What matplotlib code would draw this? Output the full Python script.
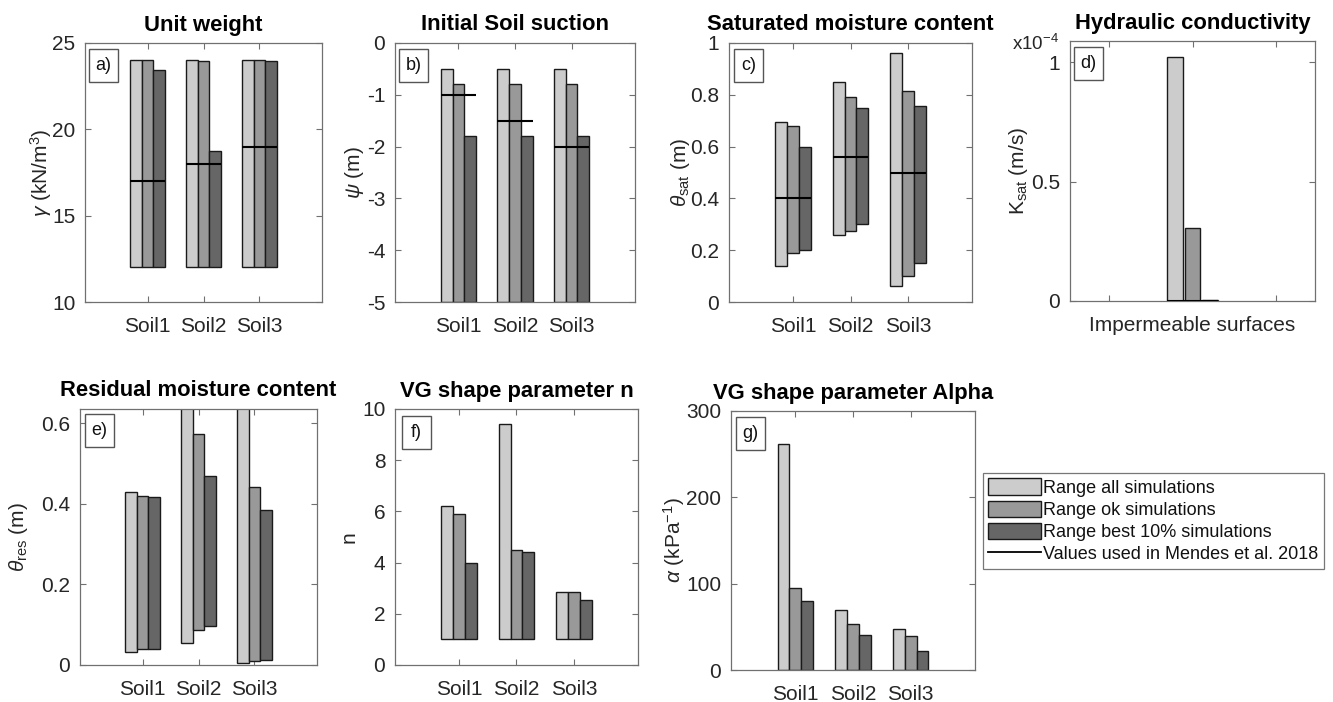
import matplotlib
matplotlib.use("Agg")
import numpy as np
import matplotlib.pyplot as plt
from matplotlib.patches import Patch, Rectangle
from matplotlib.lines import Line2D
from matplotlib.ticker import FuncFormatter

# ---------------- data ----------------
soils = ["Soil1", "Soil2", "Soil3"]
series_labels = ["Range all simulations", "Range ok simulations",
                 "Range best 10% simulations"]
mendes_label = "Values used in Mendes et al. 2018"

# rows: all / ok / best 10 %, columns: Soil1, Soil2, Soil3
unit_weight_low = [[12, 12, 12], [12, 12, 12], [12, 12, 12]]
unit_weight_high = [[24, 24, 24], [24, 23.95, 24], [23.45, 18.75, 23.95]]
unit_weight_mendes = [17, 18, 19]

suction_low = [[-5, -5, -5], [-5, -5, -5], [-5, -5, -5]]
suction_high = [[-0.5, -0.5, -0.5], [-0.8, -0.8, -0.8], [-1.8, -1.8, -1.8]]
suction_mendes = [-1.0, -1.5, -2.0]

theta_sat_low = [[0.14, 0.26, 0.06], [0.19, 0.275, 0.10], [0.20, 0.30, 0.15]]
theta_sat_high = [[0.695, 0.85, 0.96], [0.68, 0.79, 0.815], [0.60, 0.75, 0.755]]
theta_sat_mendes = [0.40, 0.56, 0.50]

ksat_category = ["Impermeable surfaces"]
ksat_low = [0.0, 0.0, 0.0]
ksat_high = [1.022e-4, 0.308e-4, 0.003e-4]
ksat_mendes = [0.0]

theta_res_low = [[0.033, 0.055, 0.005], [0.040, 0.088, 0.010], [0.040, 0.096, 0.013]]
theta_res_high = [[0.430, 0.70, 0.70], [0.420, 0.573, 0.442], [0.416, 0.469, 0.384]]

n_low = [[1, 1, 1], [1, 1, 1], [1, 1, 1]]
n_high = [[6.2, 9.4, 2.85], [5.9, 4.5, 2.85], [4.0, 4.4, 2.55]]

alpha_low = [[0, 0, 0], [0, 0, 0], [0, 0, 0]]
alpha_high = [[262, 69, 47.5], [95, 53, 39], [80, 41, 22.5]]

# ---------------- style ----------------
W, H = 1333, 702
plt.rcParams["font.family"] = ["Liberation Sans", "DejaVu Sans"]
plt.rcParams["axes.unicode_minus"] = False
plt.rcParams["mathtext.fontset"] = "custom"
plt.rcParams["mathtext.rm"] = "Liberation Sans"
plt.rcParams["mathtext.it"] = "Liberation Sans:italic"

colors = ["#cccccc", "#999999", "#666666"]
edge = "#1a1a1a"
txt_col = "#262626"
spine_col = "#707070"
bw = 0.207
offsets = [-bw, 0.0, bw]

fig = plt.figure(figsize=(W / 100, H / 100), dpi=100)


def px_axes(l, t, r, b):
    return fig.add_axes([l / W, 1 - b / H, (r - l) / W, (b - t) / H])


def style(ax, title, ylabel, label_x_px, letter, box_off=(5, 6)):
    for s in ax.spines.values():
        s.set_color(spine_col)
        s.set_linewidth(0.9)
    ax.tick_params(direction="in", top=True, right=True, length=4,
                   width=0.8, color=spine_col, labelsize=15,
                   labelcolor=txt_col)
    ax.tick_params(axis="x", pad=11)
    ax.tick_params(axis="y", pad=7)
    ax.set_title(title, fontsize=15.8, fontweight="bold", pad=9)
    ax.set_ylabel(ylabel, fontsize=15, color=txt_col)
    bb = ax.get_position()
    axw = bb.width * W
    ax.yaxis.set_label_coords(label_x_px / axw, 0.5)
    ax.yaxis.label.set_va("center")
    # panel letter box
    l = bb.x0 * W + box_off[0]
    t = (1 - bb.y1) * H + box_off[1]
    bwpx, bhpx = 29, 33
    rect = Rectangle((l / W, 1 - (t + bhpx) / H), bwpx / W, bhpx / H,
                     transform=fig.transFigure, facecolor="white",
                     edgecolor="#555555", lw=1.0, zorder=10)
    fig.patches.append(rect)
    fig.text((l + bwpx / 2) / W, 1 - (t + bhpx / 2) / H, letter,
             ha="center", va="center", fontsize=13, color="#111111",
             zorder=11)


def draw_ranges(ax, x, lows, highs):
    for i in range(3):
        lo = np.asarray(lows[i], dtype=float)
        hi = np.asarray(highs[i], dtype=float)
        ax.bar(x + offsets[i], hi - lo, bottom=lo, width=bw,
               color=colors[i], edgecolor=edge, linewidth=1.0, zorder=2)


def draw_mendes(ax, x, vals):
    for xi, v in zip(x, vals):
        ax.plot([xi - 1.5 * bw, xi + 1.5 * bw], [v, v], color="black",
                lw=1.5, zorder=3, solid_capstyle="butt")


def g_fmt(v, pos):
    return "%g" % v


x3 = np.arange(1, 4)
xl = (1 - 1.12, 3 + 1.12)

# a) Unit weight
ax = px_axes(85, 43, 322, 302)
draw_ranges(ax, x3, unit_weight_low, unit_weight_high)
draw_mendes(ax, x3, unit_weight_mendes)
ax.set_xlim(*xl); ax.set_ylim(10, 25)
ax.set_yticks([10, 15, 20, 25])
ax.set_xticks(x3); ax.set_xticklabels(soils)
style(ax, "Unit weight", r"$\gamma$ (kN/m$^3$)", -44, "a)", (4, 6))

# b) Initial soil suction
ax = px_axes(395, 43, 635, 302)
draw_ranges(ax, x3, suction_low, suction_high)
draw_mendes(ax, x3, suction_mendes)
ax.set_xlim(*xl); ax.set_ylim(-5, 0)
ax.set_yticks([-5, -4, -3, -2, -1, 0])
ax.set_xticks(x3); ax.set_xticklabels(soils)
style(ax, "Initial Soil suction", r"$\psi$ (m)", -40, "b)", (4, 6))

# c) Saturated moisture content
ax = px_axes(729, 43, 972, 302)
draw_ranges(ax, x3, theta_sat_low, theta_sat_high)
draw_mendes(ax, x3, theta_sat_mendes)
ax.set_xlim(*xl); ax.set_ylim(0, 1)
ax.set_yticks([0, 0.2, 0.4, 0.6, 0.8, 1])
ax.yaxis.set_major_formatter(FuncFormatter(g_fmt))
ax.set_xticks(x3); ax.set_xticklabels(soils)
style(ax, "Saturated moisture content", r"$\theta_{\rm sat}$ (m)", -48, "c)", (5, 6))

# d) Hydraulic conductivity (plotted in units of 1e-4 m/s)
scale = 1e-4
ax = px_axes(1070, 41, 1315, 301)
for i in range(3):
    ax.bar(1 + offsets[i], (ksat_high[i] - ksat_low[i]) / scale,
           bottom=ksat_low[i] / scale, width=bw * 0.92, color=colors[i],
           edgecolor=edge, linewidth=1.0, zorder=2)
draw_mendes(ax, [1], np.asarray(ksat_mendes) / scale)
ax.set_xlim(1 - 1.47, 1 + 1.47); ax.set_ylim(0, 1.09)
ax.set_yticks([0, 0.5, 1])
ax.yaxis.set_major_formatter(FuncFormatter(g_fmt))
ax.set_xticks([0, 1, 2]); ax.set_xticklabels(["", ksat_category[0], ""])
style(ax, "Hydraulic conductivity", r"K$_{\rm sat}$ (m/s)", -52, "d)", (4, 6))
fig.text(1012 / W, 1 - 50 / H, r"x10$^{-4}$", fontsize=13.5, color=txt_col,
         ha="left", va="baseline")

# e) Residual moisture content
ax = px_axes(80, 409, 317, 665)
draw_ranges(ax, x3, theta_res_low, theta_res_high)
ax.set_xlim(*xl); ax.set_ylim(0, 0.635)
ax.set_yticks([0, 0.2, 0.4, 0.6])
ax.yaxis.set_major_formatter(FuncFormatter(g_fmt))
ax.set_xticks(x3); ax.set_xticklabels(soils)
style(ax, "Residual moisture content", r"$\theta_{\rm res}$ (m)", -61, "e)", (5, 5))

# f) VG shape parameter n
ax = px_axes(395, 409, 638, 665)
draw_ranges(ax, x3, n_low, n_high)
ax.set_xlim(*xl); ax.set_ylim(0, 10)
ax.set_yticks([0, 2, 4, 6, 8, 10])
ax.set_xticks(x3); ax.set_xticklabels(soils)
style(ax, "VG shape parameter n", "n", -46, "f)", (7, 7))

# g) VG shape parameter alpha
ax = px_axes(731, 411, 975, 670)
draw_ranges(ax, x3, alpha_low, alpha_high)
ax.set_xlim(*xl); ax.set_ylim(0, 300)
ax.set_yticks([0, 100, 200, 300])
ax.set_xticks(x3); ax.set_xticklabels(soils)
style(ax, "VG shape parameter Alpha", r"$\alpha$ (kPa$^{-1}$)", -57, "g)", (5, 6))

# legend
handles = [Patch(facecolor=c, edgecolor=edge, lw=1.0) for c in colors]
handles.append(Line2D([0], [0], color="black", lw=1.3))
leg = fig.legend(handles, series_labels + [mendes_label], loc="upper left",
                 bbox_to_anchor=(983 / W, 1 - 473 / H), fontsize=13,
                 frameon=True, fancybox=False, handlelength=2.9,
                 handleheight=1.0, handletextpad=0.15, labelspacing=0.22,
                 borderpad=0.3, borderaxespad=0.0)
leg.get_frame().set_edgecolor("#555555")
leg.get_frame().set_linewidth(0.9)
for t in leg.get_texts():
    t.set_color("#111111")

fig.savefig("out.png", dpi=100)
